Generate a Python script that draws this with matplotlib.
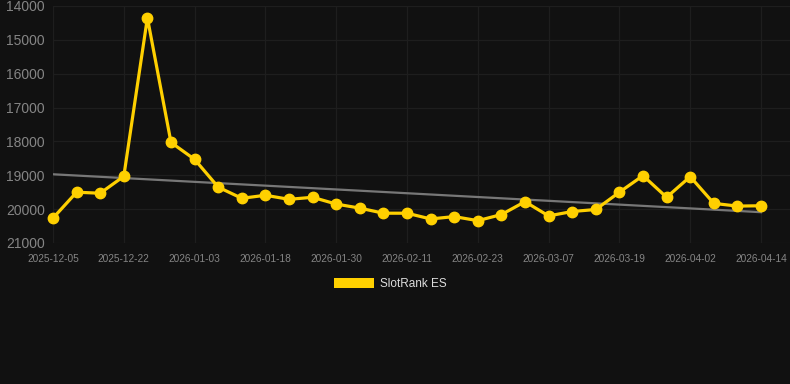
import matplotlib

matplotlib.use("Agg")
import matplotlib.pyplot as plt
from matplotlib.patches import Patch

dates = [
    "2025-12-05", "2025-12-11", "2025-12-16", "2025-12-22", "2025-12-26", "2025-12-30",
    "2026-01-03", "2026-01-08", "2026-01-13", "2026-01-18", "2026-01-22", "2026-01-26",
    "2026-01-30", "2026-02-03", "2026-02-07", "2026-02-11", "2026-02-15", "2026-02-19",
    "2026-02-23", "2026-02-27", "2026-03-03", "2026-03-07", "2026-03-11", "2026-03-15",
    "2026-03-19", "2026-03-24", "2026-03-28", "2026-04-02", "2026-04-06", "2026-04-10",
    "2026-04-14",
]
rank = [
    20265, 19500, 19530, 19030, 14350, 18030, 18530, 19350, 19680, 19590, 19710,
    19650, 19850, 19970, 20120, 20120, 20290, 20220, 20340, 20160, 19780, 20200,
    20070, 20010, 19500, 19010, 19650, 19040, 19830, 19910, 19900,
]
trend = [18970, 20090]
y_ticks = [14000, 15000, 16000, 17000, 18000, 19000, 20000, 21000]
series_name = "SlotRank ES"

bg = "#111111"
yellow = "#FFD000"

fig = plt.figure(figsize=(7.9, 3.84), dpi=100, facecolor=bg)
ax = fig.add_axes([53 / 790, 1 - 243 / 384, 1 - 53 / 790, (243 - 6) / 384])
ax.set_facecolor(bg)

xs = list(range(len(rank)))
ax.plot([xs[0], xs[-1]], trend, color="#777777", linewidth=1.6, zorder=2)
ax.plot(xs, rank, color=yellow, linewidth=2.3, marker="o", markersize=7.5,
        zorder=3, clip_on=False)

ax.set_ylim(21000, 14000)
ax.set_yticks(y_ticks)
ax.set_xlim(0, (790 - 53) / ((761 - 53) / 30))
tick_idx = xs[::3]
ax.set_xticks(tick_idx)
ax.set_xticklabels([dates[i] for i in tick_idx])

ax.grid(True, color="#1e1e1e", linewidth=0.9)
ax.set_axisbelow(True)
for s in ax.spines.values():
    s.set_visible(False)
ax.tick_params(axis="y", length=0, pad=6, labelsize=10, labelcolor="#858585")
ax.tick_params(axis="x", length=0, pad=8, labelsize=7.3, labelcolor="#858585")
for lab in ax.get_xticklabels() + ax.get_yticklabels():
    lab.set_fontfamily("Liberation Sans")

handle = Patch(facecolor=yellow, edgecolor="none")
fig.legend(
    [handle], [series_name],
    loc="center", bbox_to_anchor=(390 / 790, 1 - 284 / 384),
    frameon=False, handlelength=3.4, handleheight=1.0, handletextpad=0.5,
    prop={"family": "Liberation Sans", "size": 8.5}, labelcolor="#dddddd",
)

fig.savefig("out.png", dpi=100, facecolor=bg)
